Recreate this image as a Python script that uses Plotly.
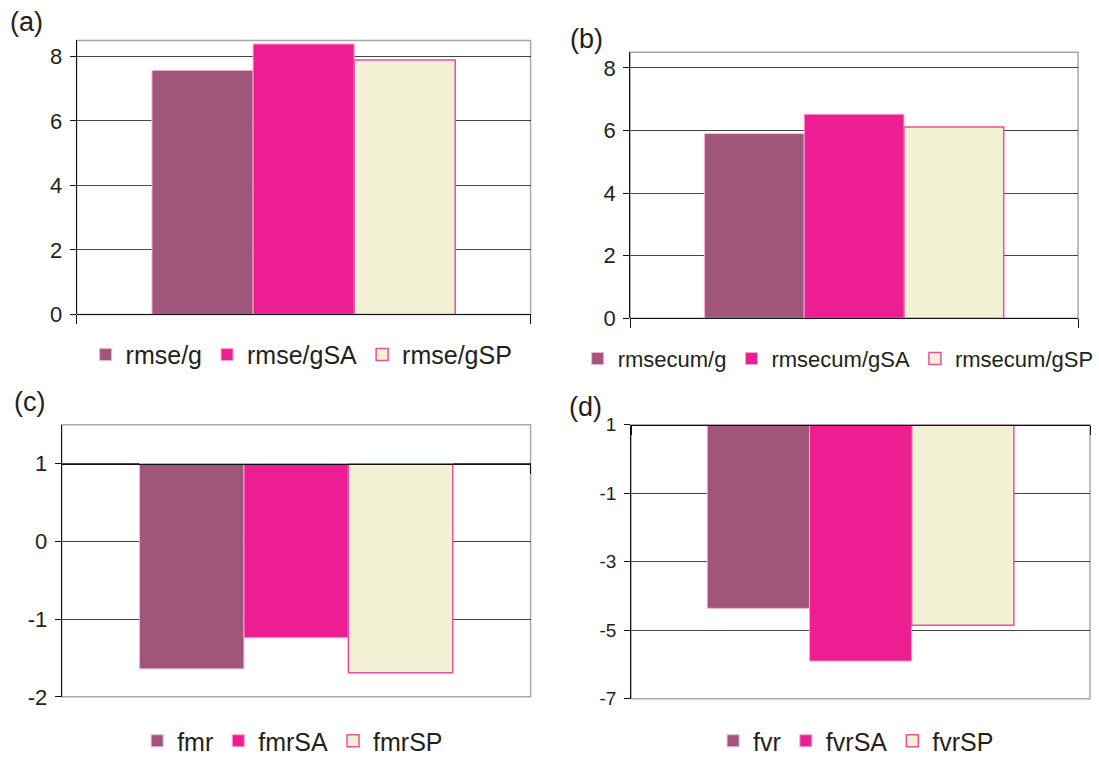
import plotly.graph_objects as go

# ---------------- data ----------------
series_a = ["rmse/g", "rmse/gSA", "rmse/gSP"]
values_a = [7.57, 8.39, 7.89]

series_b = ["rmsecum/g", "rmsecum/gSA", "rmsecum/gSP"]
values_b = [5.90, 6.52, 6.11]

series_c = ["fmr", "fmrSA", "fmrSP"]
values_c = [-1.64, -1.24, -1.69]

series_d = ["fvr", "fvrSA", "fvrSP"]
values_d = [-4.36, -5.90, -4.85]

panel_labels = ["(a)", "(b)", "(c)", "(d)"]
bar_base = [0, 0, 1, 1]
y_ranges = [[0, 8.5], [0, 8.5], [-2, 1.5], [-7, 1]]
y_ticks = [[0, 2, 4, 6, 8], [0, 2, 4, 6, 8], [-2, -1, 0, 1], [-7, -5, -3, -1, 1]]
y_ticktext = [[str(v) for v in t] for t in y_ticks]

# ---------------- style ----------------
W, H = 1099, 764
FONT = "Arial, Liberation Sans, Helvetica, sans-serif"
fill_colors = ["#A0567A", "#EC1E91", "#F3F1D4"]
edge_colors = ["#F2B3D2", "#F7A6CE", "#EC4FA2"]
edge_widths = [1, 1, 1.5]

# plot boxes in pixels: left, right, top, bottom
boxes = [
    (77, 533, 41, 319),
    (633, 1083, 53, 323),
    (62, 533, 431, 707),
    (634, 1095, 431, 709),
]
tick_sizes = [22, 22, 22, 19]
tick_standoff = [3, 3, 3, 4]
label_pos = [(8, 22), (571, 40), (12, 408), (570, 413)]
legend_pos = [(303, 360), (842, 364), (294, 752), (860, 752)]
legend_sizes = [25, 22, 25, 25]

fig = go.Figure()
all_series = [series_a, series_b, series_c, series_d]
all_values = [values_a, values_b, values_c, values_d]

layout = {}
shapes = []
annotations = []
for p in range(4):
    sfx = "" if p == 0 else str(p + 1)
    leg = "legend" if p == 0 else "legend" + str(p + 1)
    for i, (name, v) in enumerate(zip(all_series[p], all_values[p])):
        fig.add_trace(go.Bar(
            x=[0], y=[v - bar_base[p]], base=bar_base[p], name=name,
            marker=dict(color=fill_colors[i],
                        line=dict(color=edge_colors[i], width=edge_widths[i])),
            xaxis="x" + sfx, yaxis="y" + sfx, legend=leg,
        ))
    l, r, t, b = boxes[p]
    xd = [l / W, r / W]
    yd = [1 - b / H, 1 - t / H]
    yr = y_ranges[p]
    base = bar_base[p]
    frac = (base - yr[0]) / (yr[1] - yr[0])
    xpos = yd[0] + frac * (yd[1] - yd[0])
    layout["xaxis" + sfx] = dict(
        domain=xd, range=[-0.5, 0.5], anchor="free", position=xpos,
        showgrid=False, zeroline=False, showline=True, linecolor="#111",
        linewidth=1, tickmode="array", tickvals=[-0.5, 0.5],
        ticks="outside", ticklen=9, tickcolor="#111", showticklabels=False,
        fixedrange=True, automargin=False,
    )
    layout["yaxis" + sfx] = dict(
        domain=yd, range=yr, anchor="x" + sfx, tickmode="array",
        tickvals=y_ticks[p], ticktext=y_ticktext[p],
        showgrid=True, gridcolor="#444", gridwidth=1,
        zeroline=False, showline=True, linecolor="#111", linewidth=1,
        ticks="outside", ticklen=6, tickcolor="#111",
        tickfont=dict(family=FONT, size=tick_sizes[p], color="#231F20"),
        ticklabelstandoff=tick_standoff[p], automargin=False,
    )
    shapes.append(dict(type="rect", xref="x" + sfx + " domain",
                       yref="y" + sfx + " domain", x0=0, x1=1, y0=0, y1=1,
                       line=dict(color="#A8A8A8", width=1.5), layer="below"))
    lx, ly = label_pos[p]
    annotations.append(dict(text=panel_labels[p], xref="paper", yref="paper",
                            x=lx / W, y=1 - ly / H, xanchor="left",
                            yanchor="middle", showarrow=False,
                            font=dict(family=FONT, size=27, color="#231F20")))
    gx, gy = legend_pos[p]
    layout[leg] = dict(orientation="h", x=gx / W, y=1 - gy / H,
                       xanchor="center", yanchor="middle",
                       font=dict(family=FONT, size=legend_sizes[p], color="#231F20"),
                       bgcolor="rgba(0,0,0,0)", itemwidth=30,
                       traceorder="normal")

fig.update_layout(
    width=W, height=H, margin=dict(l=0, r=0, t=0, b=0, pad=0),
    autosize=False,
    paper_bgcolor="white", plot_bgcolor="white",
    barmode="group", bargap=0.332, bargroupgap=0,
    shapes=shapes, annotations=annotations, **layout,
)

page_script = (
    "document.documentElement.style.margin='0';"
    "document.body.style.margin='0';"
    "document.body.style.overflow='hidden';"
)
fig.write_html(
    "out.html",
    config={"displayModeBar": False},
    post_script=page_script,
)
